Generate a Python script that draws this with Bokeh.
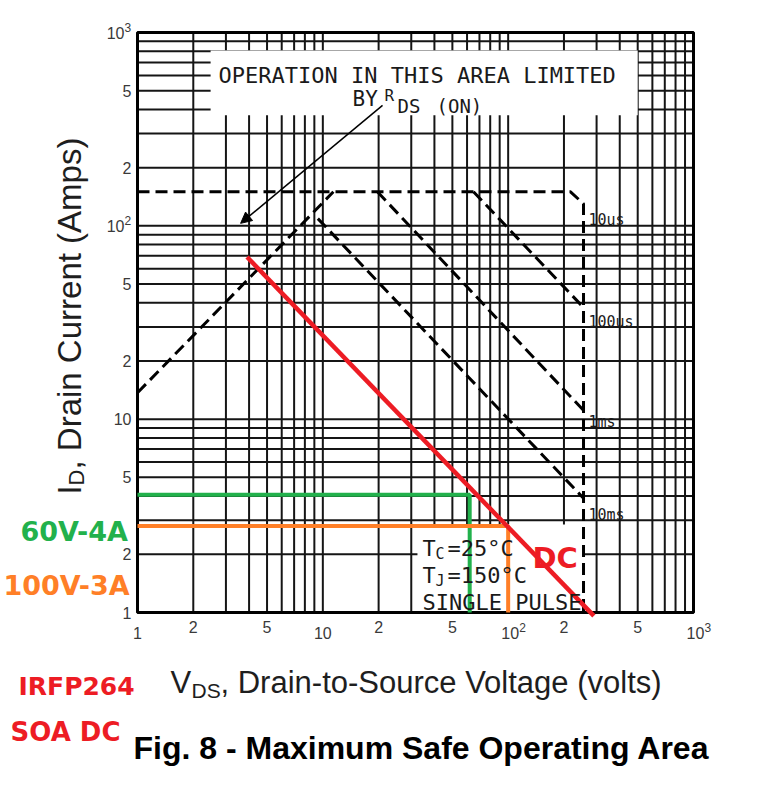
import math
from bokeh.plotting import figure
from bokeh.models import Label, Arrow, NormalHead, Range1d
from bokeh.embed import file_html
from bokeh.resources import INLINE

# ---------------- data ----------------
x_ticks = [1, 2, 5, 10, 20, 50, 100, 200, 500, 1000]
x_tick_labels = ["1", "2", "5", "10", "2", "5", "10²", "2", "5", "10³"]
y_ticks = [1, 2, 5, 10, 20, 50, 100, 200, 500, 1000]
y_tick_labels = ["1", "2", "5", "10", "2", "5", "10²", "2", "5", "10³"]

# limit curves (V_DS in volts, I_D in amps)
v_rds = [1.0, 11.4]
i_rds = [13.7, 150.0]
v_10us = [1.0, 217.0, 255.0, 255.0]
i_10us = [150.0, 150.0, 130.0, 1.0]
v_100us = [65.0, 255.0]
i_100us = [150.0, 37.8]
v_1ms = [19.7, 255.0]
i_1ms = [150.0, 11.1]
v_10ms = [9.4, 255.0]
i_10ms = [109.0, 3.9]
curve_names = ["10us", "100us", "1ms", "10ms"]

# hand-drawn DC line and operating points
v_dc = [3.9, 290.0]
i_dc = [69.0, 0.96]
v_op60 = [1.0, 62.0, 62.0]
i_op60 = [4.06, 4.06, 1.0]
v_op100 = [1.0, 100.0, 100.0]
i_op100 = [2.8, 2.8, 1.0]

# ---------------- layout ----------------
W, H = 775, 794
FL, FR, FT, FB = 137, 693, 32, 612          # chart box on the page
DX = (FR - FL) / 3.0                        # pixels per decade
DY = (FB - FT) / 3.0
x_lo, x_hi = 10 ** (-FL / DX), 10 ** (3 + (W - FR) / DX)
y_lo, y_hi = 10 ** (-(H - FB) / DY), 10 ** (3 + FT / DY)

p = figure(width=W, height=H, x_axis_type="log", y_axis_type="log",
           x_range=Range1d(x_lo, x_hi), y_range=Range1d(y_lo, y_hi),
           min_border=0, output_backend="svg", toolbar_location=None)
p.background_fill_color = "white"
p.border_fill_color = "white"
p.outline_line_color = None
p.grid.grid_line_color = None
p.axis.visible = False

# log grid (1..9 per decade) inside the chart box
grid_vals = [m * 10 ** d for d in range(3) for m in range(1, 10)] + [1000]
n = len(grid_vals)
p.segment(x0=[1] * n, x1=[1000] * n, y0=grid_vals, y1=grid_vals,
          line_color="#151515", line_width=2)
p.segment(x0=grid_vals, x1=grid_vals, y0=[1] * n, y1=[1000] * n,
          line_color="#151515", line_width=2)

# white label boxes of the datasheet
p.quad(left=[2.48], right=[500], bottom=[373], top=[808],
       fill_color="white", line_color=None)
p.quad(left=[32.4], right=[255], bottom=[1], top=[2.85],
       fill_color="white", line_color=None)

# chart frame
p.quad(left=[1], right=[1000], bottom=[1], top=[1000],
       fill_color=None, line_color="black", line_width=3)

# limit curves
dash = "12 6"
for vx, iy in ((v_rds, i_rds), (v_10us, i_10us), (v_100us, i_100us),
               (v_1ms, i_1ms), (v_10ms, i_10ms)):
    p.line(vx, iy, line_color="black", line_width=3, line_dash=dash)

# hand-drawn overlays
p.line(v_op60, i_op60, line_color="#22B14C", line_width=4)
p.line(v_op100, i_op100, line_color="#FF7F27", line_width=4)
p.line(v_dc, i_dc, line_color="#ED1C24", line_width=4.5)

p.add_layout(Arrow(end=NormalHead(size=11, fill_color="black", line_color="black", line_width=1),
                   x_start=21, y_start=420, x_end=3.6, y_end=103,
                   line_width=1.5, line_color="black"))


def lab(txt, x, y, size, font="Liberation Sans", color="black", style="normal",
        align="left", baseline="alphabetic", angle=0.0, x_units="screen", y_units="screen",
        dx=0, dy=0):
    # screen positions are given from the page's top-left corner
    yy = y if y_units == "data" else H - y
    p.add_layout(Label(x=x, y=yy, x_units=x_units, y_units=y_units,
                       x_offset=dx, y_offset=dy,
                       text=txt, text_font=font, text_font_size=f"{size}px",
                       text_color=color, text_font_style=style,
                       text_align=align, text_baseline=baseline, angle=angle))


SUP = {"²": "2", "³": "3"}
TICK = "#3a3a3a"
# tick labels, placed through the log scales
for t, l in zip(x_ticks, x_tick_labels):
    if l[-1] in SUP:
        lab(l[:-1], t, 626, 16, color=TICK, align="center", baseline="top",
            x_units="data", dx=2)
        lab(SUP[l[-1]], t, 622, 12, color=TICK, align="left", baseline="top",
            x_units="data", dx=11)
    else:
        lab(l, t, 626 if l.startswith("1") else 620, 16, color=TICK,
            align="center", baseline="top", x_units="data")
for t, l in zip(y_ticks, y_tick_labels):
    if l[-1] in SUP:
        lab(l[:-1], 124, t, 16, color=TICK, align="right", baseline="middle",
            y_units="data")
        lab(SUP[l[-1]], 124, t, 12, color=TICK, align="left", baseline="middle",
            y_units="data", dy=5)
    else:
        lab(l, 131, t, 16, color=TICK, align="right", baseline="middle", y_units="data")

MONO = "DejaVu Sans Mono"
INK = "#1a1a1a"
# box texts
lab("OPERATION IN THIS AREA LIMITED", 218, 75, 22, MONO, INK)
lab("BY", 352, 98, 21, MONO, INK)
lab("R", 384, 95, 16, MONO, INK)
lab("DS", 397, 105, 19, MONO, INK)
lab("(ON)", 436, 105, 19, MONO, INK)

lab("T", 422, 548, 22, MONO, INK)
lab("C", 435, 553, 15, MONO, INK)
lab("=25°C", 447, 548, 22, MONO, INK)
lab("T", 422, 575, 22, MONO, INK)
lab("J", 435, 580, 15, MONO, INK)
lab("=150°C", 447, 575, 22, MONO, INK)
lab("SINGLE PULSE", 422, 602, 22, MONO, INK)

# curve labels
for name, yb in zip(curve_names, [219, 321, 421, 514]):
    lab(name, 588, yb, 15, MONO, INK)

# axis titles
lab("V", 170, 682, 31, color="#1e1e1e")
lab("DS", 191, 690, 21, color="#1e1e1e")
lab(", Drain-to-Source Voltage (volts)", 220, 682, 31, color="#1e1e1e")

lab("I", 69, 494, 33, color="#1e1e1e", angle=math.pi / 2)
lab("D", 76, 485, 22, color="#1e1e1e", angle=math.pi / 2)
lab(", Drain Current (Amps)", 69, 469, 33, color="#1e1e1e", angle=math.pi / 2)

lab("Fig. 8 - Maximum Safe Operating Area", 133, 747, 32, style="bold")

# hand annotations
HAND = "DejaVu Sans"
lab("60V-4A", 20, 531, 27, HAND, "#22B14C", "bold")
lab("100V-3A", 3, 585, 27, HAND, "#FF7F27", "bold")
lab("DC", 532, 557, 29, HAND, "#ED1C24", "bold")
lab("IRFP264", 18, 686, 25, HAND, "#ED1C24", "bold")
lab("SOA DC", 10, 731, 26, HAND, "#ED1C24", "bold")

open("out.html", "w").write(file_html(p, INLINE))
